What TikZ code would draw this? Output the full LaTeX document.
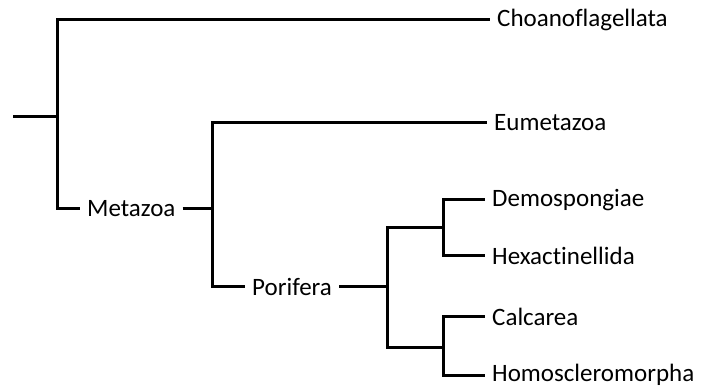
\documentclass[tikz,border=0pt]{standalone}
\usepackage{fontspec}
\setmainfont{Carlito}[Ligatures=NoCommon]
\tikzset{taxon/.style={anchor=west, inner xsep=7pt, inner ysep=0pt, font=\fontsize{25}{30}\selectfont},
         branch/.style={line width=3pt, line join=miter}}
\begin{document}
\begin{tikzpicture}[x=1pt, y=-1pt]
\useasboundingbox (0,0) rectangle (702,390);
\coordinate (root) at (13,117);
\coordinate (n0) at (57,117);
\node[taxon] (choano) at (490,20){Choanoflagellata};
\node[taxon] (metazoa) at (80,209){Metazoa};
\draw[branch](root) -- (n0);
\draw[branch](n0) |- (choano);
\draw[branch](n0) |- (metazoa);
\coordinate (n1) at (212,209);
\node[taxon] (eumeta) at (487,123){Eumetazoa};
\node[taxon] (porifera) at (245,287){Porifera};
\draw[branch](metazoa) -- (n1);
\draw[branch](n1) |- (eumeta);
\draw[branch](n1) |- (porifera);
\coordinate (n2) at (387,287);
\coordinate (n3) at (443,228);
\coordinate (n4) at (443,347);
\draw[branch](porifera) -- (n2);
\draw[branch](n2) |- (n3);
\draw[branch](n2) |- (n4);
\node[taxon] (demo) at (485,200){Demospongiae};
\node[taxon] (hexa) at (485,256){Hexactinellida};
\draw[branch](n3) |- (demo);
\draw[branch](n3) |- (hexa);
\node[taxon] (calc) at (485,317){Calcarea};
\node[taxon] (homo) at (485,375){Homoscleromorpha};
\draw[branch](n4) |- (calc);
\draw[branch](n4) |- (homo);
\end{tikzpicture}
\end{document}
